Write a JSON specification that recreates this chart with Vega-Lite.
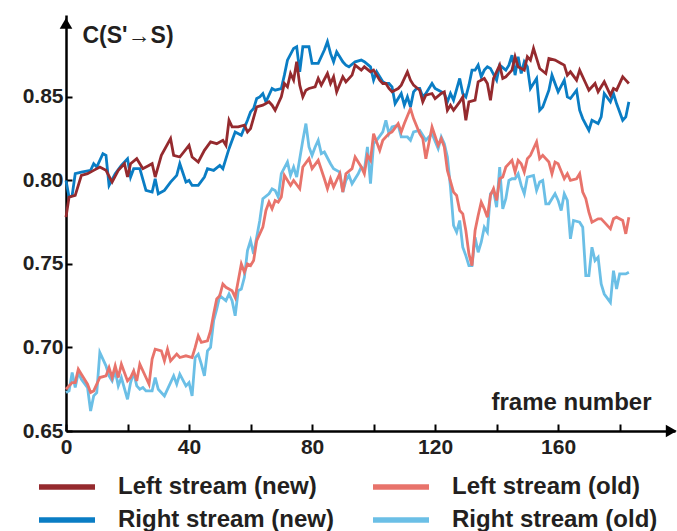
{
  "$schema": "https://vega.github.io/schema/vega-lite/v6.json",
  "autosize": {"type": "none"},
  "width": 609,
  "height": 416,
  "padding": {"left": 66, "top": 15, "right": 2, "bottom": 100},
  "background": "white",
  "config": {
    "view": {"stroke": null},
    "font": "Liberation Sans",
    "axis": {"labelFont": "Liberation Sans", "titleFont": "Liberation Sans", "labelColor": "#231f20", "titleColor": "#231f20", "labelFontWeight": "bold", "titleFontWeight": "bold", "grid": false, "domainColor": "#000", "tickColor": "#000", "domainWidth": 2.5, "tickWidth": 2}
  },
  "datasets": {
    "arrows": [{"ax": 196.8, "ay": 0.65, "sh": "triangle-right"}, {"ax": 0, "ay": 0.894, "sh": "triangle-up"}]
  },
  "data": {"values": [
    {"s":"RO","f":0,"v":0.673},{"s":"RO","f":1,"v":0.674},{"s":"RO","f":2,"v":0.685},{"s":"RO","f":3,"v":0.676},{"s":"RO","f":4,"v":0.685},{"s":"RO","f":5,"v":0.681},{"s":"RO","f":7,"v":0.676},{"s":"RO","f":8,"v":0.662},{"s":"RO","f":9,"v":0.671},{"s":"RO","f":10,"v":0.673},{"s":"RO","f":11,"v":0.697},{"s":"RO","f":13,"v":0.689},{"s":"RO","f":14,"v":0.683},{"s":"RO","f":15,"v":0.680},{"s":"RO","f":16,"v":0.686},{"s":"RO","f":17,"v":0.677},{"s":"RO","f":18,"v":0.682},{"s":"RO","f":20,"v":0.669},{"s":"RO","f":21,"v":0.679},{"s":"RO","f":22,"v":0.685},{"s":"RO","f":23,"v":0.677},{"s":"RO","f":24,"v":0.675},{"s":"RO","f":25,"v":0.676},{"s":"RO","f":26,"v":0.674},{"s":"RO","f":28,"v":0.674},{"s":"RO","f":29,"v":0.682},{"s":"RO","f":30,"v":0.675},{"s":"RO","f":32,"v":0.671},{"s":"RO","f":34,"v":0.679},{"s":"RO","f":35,"v":0.683},{"s":"RO","f":36,"v":0.678},{"s":"RO","f":37,"v":0.684},{"s":"RO","f":39,"v":0.677},{"s":"RO","f":40,"v":0.679},{"s":"RO","f":41,"v":0.671},{"s":"RO","f":42,"v":0.694},{"s":"RO","f":43,"v":0.696},{"s":"RO","f":44,"v":0.690},{"s":"RO","f":45,"v":0.683},{"s":"RO","f":46,"v":0.698},{"s":"RO","f":47,"v":0.700},{"s":"RO","f":48,"v":0.716},{"s":"RO","f":49,"v":0.723},{"s":"RO","f":50,"v":0.731},{"s":"RO","f":52,"v":0.728},{"s":"RO","f":53,"v":0.732},{"s":"RO","f":54,"v":0.728},{"s":"RO","f":55,"v":0.719},{"s":"RO","f":56,"v":0.734},{"s":"RO","f":57,"v":0.735},{"s":"RO","f":58,"v":0.742},{"s":"RO","f":59,"v":0.758},{"s":"RO","f":60,"v":0.764},{"s":"RO","f":61,"v":0.756},{"s":"RO","f":62,"v":0.766},{"s":"RO","f":63,"v":0.776},{"s":"RO","f":64,"v":0.789},{"s":"RO","f":66,"v":0.792},{"s":"RO","f":67,"v":0.795},{"s":"RO","f":68,"v":0.794},{"s":"RO","f":69,"v":0.790},{"s":"RO","f":70,"v":0.804},{"s":"RO","f":72,"v":0.811},{"s":"RO","f":73,"v":0.803},{"s":"RO","f":74,"v":0.808},{"s":"RO","f":75,"v":0.802},{"s":"RO","f":77,"v":0.824},{"s":"RO","f":78,"v":0.834},{"s":"RO","f":79,"v":0.820},{"s":"RO","f":80,"v":0.815},{"s":"RO","f":81,"v":0.820},{"s":"RO","f":82,"v":0.824},{"s":"RO","f":83,"v":0.816},{"s":"RO","f":84,"v":0.817},{"s":"RO","f":86,"v":0.810},{"s":"RO","f":87,"v":0.807},{"s":"RO","f":89,"v":0.805},{"s":"RO","f":90,"v":0.793},{"s":"RO","f":91,"v":0.800},{"s":"RO","f":92,"v":0.803},{"s":"RO","f":93,"v":0.798},{"s":"RO","f":95,"v":0.804},{"s":"RO","f":96,"v":0.808},{"s":"RO","f":97,"v":0.806},{"s":"RO","f":98,"v":0.820},{"s":"RO","f":99,"v":0.798},{"s":"RO","f":100,"v":0.822},{"s":"RO","f":101,"v":0.824},{"s":"RO","f":103,"v":0.829},{"s":"RO","f":104,"v":0.836},{"s":"RO","f":105,"v":0.828},{"s":"RO","f":106,"v":0.832},{"s":"RO","f":108,"v":0.833},{"s":"RO","f":109,"v":0.826},{"s":"RO","f":111,"v":0.826},{"s":"RO","f":112,"v":0.824},{"s":"RO","f":113,"v":0.829},{"s":"RO","f":115,"v":0.830},{"s":"RO","f":117,"v":0.824},{"s":"RO","f":119,"v":0.828},{"s":"RO","f":121,"v":0.819},{"s":"RO","f":122,"v":0.826},{"s":"RO","f":123,"v":0.822},{"s":"RO","f":124,"v":0.814},{"s":"RO","f":125,"v":0.796},{"s":"RO","f":126,"v":0.773},{"s":"RO","f":127,"v":0.769},{"s":"RO","f":128,"v":0.776},{"s":"RO","f":129,"v":0.760},{"s":"RO","f":130,"v":0.755},{"s":"RO","f":131,"v":0.749},{"s":"RO","f":132,"v":0.749},{"s":"RO","f":133,"v":0.766},{"s":"RO","f":134,"v":0.757},{"s":"RO","f":135,"v":0.763},{"s":"RO","f":136,"v":0.772},{"s":"RO","f":137,"v":0.769},{"s":"RO","f":138,"v":0.792},{"s":"RO","f":139,"v":0.794},{"s":"RO","f":140,"v":0.784},{"s":"RO","f":141,"v":0.808},{"s":"RO","f":142,"v":0.783},{"s":"RO","f":143,"v":0.789},{"s":"RO","f":144,"v":0.800},{"s":"RO","f":145,"v":0.801},{"s":"RO","f":146,"v":0.801},{"s":"RO","f":147,"v":0.804},{"s":"RO","f":148,"v":0.797},{"s":"RO","f":149,"v":0.792},{"s":"RO","f":150,"v":0.802},{"s":"RO","f":152,"v":0.803},{"s":"RO","f":153,"v":0.794},{"s":"RO","f":154,"v":0.799},{"s":"RO","f":155,"v":0.800},{"s":"RO","f":156,"v":0.786},{"s":"RO","f":157,"v":0.786},{"s":"RO","f":159,"v":0.792},{"s":"RO","f":160,"v":0.788},{"s":"RO","f":161,"v":0.782},{"s":"RO","f":162,"v":0.792},{"s":"RO","f":163,"v":0.788},{"s":"RO","f":164,"v":0.765},{"s":"RO","f":165,"v":0.776},{"s":"RO","f":167,"v":0.775},{"s":"RO","f":168,"v":0.772},{"s":"RO","f":169,"v":0.743},{"s":"RO","f":170,"v":0.743},{"s":"RO","f":171,"v":0.760},{"s":"RO","f":172,"v":0.752},{"s":"RO","f":173,"v":0.754},{"s":"RO","f":174,"v":0.738},{"s":"RO","f":175,"v":0.732},{"s":"RO","f":177,"v":0.727},{"s":"RO","f":178,"v":0.746},{"s":"RO","f":179,"v":0.735},{"s":"RO","f":180,"v":0.744},{"s":"RO","f":182,"v":0.744},{"s":"RO","f":183,"v":0.745},
    {"s":"LO","f":0,"v":0.675},{"s":"LO","f":2,"v":0.679},{"s":"LO","f":3,"v":0.679},{"s":"LO","f":4,"v":0.687},{"s":"LO","f":5,"v":0.684},{"s":"LO","f":7,"v":0.678},{"s":"LO","f":8,"v":0.673},{"s":"LO","f":9,"v":0.674},{"s":"LO","f":11,"v":0.682},{"s":"LO","f":13,"v":0.683},{"s":"LO","f":14,"v":0.688},{"s":"LO","f":15,"v":0.682},{"s":"LO","f":16,"v":0.689},{"s":"LO","f":17,"v":0.682},{"s":"LO","f":18,"v":0.690},{"s":"LO","f":20,"v":0.680},{"s":"LO","f":21,"v":0.682},{"s":"LO","f":22,"v":0.686},{"s":"LO","f":23,"v":0.680},{"s":"LO","f":24,"v":0.690},{"s":"LO","f":26,"v":0.682},{"s":"LO","f":27,"v":0.678},{"s":"LO","f":28,"v":0.693},{"s":"LO","f":29,"v":0.699},{"s":"LO","f":31,"v":0.698},{"s":"LO","f":32,"v":0.692},{"s":"LO","f":33,"v":0.699},{"s":"LO","f":34,"v":0.692},{"s":"LO","f":36,"v":0.696},{"s":"LO","f":37,"v":0.694},{"s":"LO","f":39,"v":0.695},{"s":"LO","f":41,"v":0.694},{"s":"LO","f":42,"v":0.700},{"s":"LO","f":43,"v":0.707},{"s":"LO","f":44,"v":0.703},{"s":"LO","f":46,"v":0.704},{"s":"LO","f":47,"v":0.710},{"s":"LO","f":48,"v":0.720},{"s":"LO","f":49,"v":0.729},{"s":"LO","f":50,"v":0.731},{"s":"LO","f":51,"v":0.738},{"s":"LO","f":52,"v":0.736},{"s":"LO","f":54,"v":0.734},{"s":"LO","f":55,"v":0.730},{"s":"LO","f":57,"v":0.750},{"s":"LO","f":58,"v":0.745},{"s":"LO","f":59,"v":0.750},{"s":"LO","f":60,"v":0.749},{"s":"LO","f":61,"v":0.752},{"s":"LO","f":62,"v":0.764},{"s":"LO","f":64,"v":0.772},{"s":"LO","f":65,"v":0.782},{"s":"LO","f":66,"v":0.787},{"s":"LO","f":67,"v":0.783},{"s":"LO","f":68,"v":0.788},{"s":"LO","f":69,"v":0.787},{"s":"LO","f":70,"v":0.790},{"s":"LO","f":71,"v":0.803},{"s":"LO","f":73,"v":0.797},{"s":"LO","f":74,"v":0.800},{"s":"LO","f":76,"v":0.795},{"s":"LO","f":77,"v":0.808},{"s":"LO","f":79,"v":0.813},{"s":"LO","f":80,"v":0.807},{"s":"LO","f":82,"v":0.812},{"s":"LO","f":84,"v":0.801},{"s":"LO","f":85,"v":0.795},{"s":"LO","f":86,"v":0.801},{"s":"LO","f":87,"v":0.796},{"s":"LO","f":89,"v":0.804},{"s":"LO","f":90,"v":0.793},{"s":"LO","f":91,"v":0.804},{"s":"LO","f":93,"v":0.807},{"s":"LO","f":94,"v":0.814},{"s":"LO","f":96,"v":0.808},{"s":"LO","f":97,"v":0.804},{"s":"LO","f":98,"v":0.815},{"s":"LO","f":99,"v":0.812},{"s":"LO","f":100,"v":0.828},{"s":"LO","f":102,"v":0.818},{"s":"LO","f":103,"v":0.824},{"s":"LO","f":105,"v":0.828},{"s":"LO","f":106,"v":0.829},{"s":"LO","f":108,"v":0.834},{"s":"LO","f":109,"v":0.829},{"s":"LO","f":110,"v":0.834},{"s":"LO","f":112,"v":0.843},{"s":"LO","f":113,"v":0.837},{"s":"LO","f":115,"v":0.828},{"s":"LO","f":116,"v":0.825},{"s":"LO","f":117,"v":0.813},{"s":"LO","f":119,"v":0.832},{"s":"LO","f":121,"v":0.821},{"s":"LO","f":122,"v":0.825},{"s":"LO","f":123,"v":0.820},{"s":"LO","f":124,"v":0.806},{"s":"LO","f":126,"v":0.793},{"s":"LO","f":127,"v":0.791},{"s":"LO","f":128,"v":0.782},{"s":"LO","f":129,"v":0.780},{"s":"LO","f":130,"v":0.770},{"s":"LO","f":131,"v":0.756},{"s":"LO","f":132,"v":0.749},{"s":"LO","f":133,"v":0.770},{"s":"LO","f":134,"v":0.779},{"s":"LO","f":135,"v":0.787},{"s":"LO","f":136,"v":0.783},{"s":"LO","f":137,"v":0.778},{"s":"LO","f":138,"v":0.791},{"s":"LO","f":139,"v":0.795},{"s":"LO","f":140,"v":0.788},{"s":"LO","f":141,"v":0.801},{"s":"LO","f":142,"v":0.802},{"s":"LO","f":143,"v":0.808},{"s":"LO","f":145,"v":0.812},{"s":"LO","f":146,"v":0.805},{"s":"LO","f":147,"v":0.812},{"s":"LO","f":148,"v":0.810},{"s":"LO","f":149,"v":0.805},{"s":"LO","f":150,"v":0.813},{"s":"LO","f":151,"v":0.815},{"s":"LO","f":153,"v":0.823},{"s":"LO","f":154,"v":0.813},{"s":"LO","f":155,"v":0.815},{"s":"LO","f":157,"v":0.811},{"s":"LO","f":158,"v":0.804},{"s":"LO","f":159,"v":0.811},{"s":"LO","f":160,"v":0.810},{"s":"LO","f":162,"v":0.801},{"s":"LO","f":163,"v":0.804},{"s":"LO","f":164,"v":0.800},{"s":"LO","f":166,"v":0.801},{"s":"LO","f":167,"v":0.804},{"s":"LO","f":168,"v":0.793},{"s":"LO","f":169,"v":0.789},{"s":"LO","f":170,"v":0.781},{"s":"LO","f":171,"v":0.775},{"s":"LO","f":173,"v":0.777},{"s":"LO","f":174,"v":0.777},{"s":"LO","f":175,"v":0.775},{"s":"LO","f":177,"v":0.771},{"s":"LO","f":178,"v":0.777},{"s":"LO","f":179,"v":0.778},{"s":"LO","f":181,"v":0.776},{"s":"LO","f":182,"v":0.768},{"s":"LO","f":183,"v":0.778},
    {"s":"RN","f":0,"v":0.800},{"s":"RN","f":1,"v":0.790},{"s":"RN","f":2,"v":0.791},{"s":"RN","f":3,"v":0.804},{"s":"RN","f":5,"v":0.805},{"s":"RN","f":8,"v":0.806},{"s":"RN","f":9,"v":0.810},{"s":"RN","f":10,"v":0.808},{"s":"RN","f":12,"v":0.816},{"s":"RN","f":13,"v":0.815},{"s":"RN","f":14,"v":0.797},{"s":"RN","f":16,"v":0.804},{"s":"RN","f":18,"v":0.809},{"s":"RN","f":20,"v":0.813},{"s":"RN","f":21,"v":0.802},{"s":"RN","f":22,"v":0.807},{"s":"RN","f":24,"v":0.807},{"s":"RN","f":26,"v":0.794},{"s":"RN","f":28,"v":0.793},{"s":"RN","f":29,"v":0.801},{"s":"RN","f":30,"v":0.792},{"s":"RN","f":32,"v":0.794},{"s":"RN","f":34,"v":0.799},{"s":"RN","f":36,"v":0.803},{"s":"RN","f":37,"v":0.810},{"s":"RN","f":39,"v":0.799},{"s":"RN","f":40,"v":0.800},{"s":"RN","f":41,"v":0.797},{"s":"RN","f":43,"v":0.797},{"s":"RN","f":45,"v":0.802},{"s":"RN","f":46,"v":0.807},{"s":"RN","f":48,"v":0.806},{"s":"RN","f":50,"v":0.809},{"s":"RN","f":51,"v":0.807},{"s":"RN","f":52,"v":0.813},{"s":"RN","f":53,"v":0.819},{"s":"RN","f":55,"v":0.829},{"s":"RN","f":57,"v":0.827},{"s":"RN","f":59,"v":0.836},{"s":"RN","f":60,"v":0.841},{"s":"RN","f":61,"v":0.843},{"s":"RN","f":62,"v":0.849},{"s":"RN","f":63,"v":0.850},{"s":"RN","f":64,"v":0.852},{"s":"RN","f":65,"v":0.847},{"s":"RN","f":67,"v":0.855},{"s":"RN","f":68,"v":0.854},{"s":"RN","f":70,"v":0.855},{"s":"RN","f":71,"v":0.863},{"s":"RN","f":72,"v":0.872},{"s":"RN","f":74,"v":0.879},{"s":"RN","f":75,"v":0.880},{"s":"RN","f":76,"v":0.865},{"s":"RN","f":77,"v":0.880},{"s":"RN","f":79,"v":0.880},{"s":"RN","f":80,"v":0.870},{"s":"RN","f":82,"v":0.870},{"s":"RN","f":84,"v":0.878},{"s":"RN","f":85,"v":0.883},{"s":"RN","f":86,"v":0.876},{"s":"RN","f":87,"v":0.871},{"s":"RN","f":88,"v":0.877},{"s":"RN","f":90,"v":0.871},{"s":"RN","f":91,"v":0.869},{"s":"RN","f":92,"v":0.868},{"s":"RN","f":94,"v":0.871},{"s":"RN","f":96,"v":0.872},{"s":"RN","f":97,"v":0.871},{"s":"RN","f":99,"v":0.868},{"s":"RN","f":100,"v":0.860},{"s":"RN","f":101,"v":0.865},{"s":"RN","f":103,"v":0.859},{"s":"RN","f":104,"v":0.858},{"s":"RN","f":105,"v":0.858},{"s":"RN","f":106,"v":0.856},{"s":"RN","f":107,"v":0.846},{"s":"RN","f":109,"v":0.852},{"s":"RN","f":110,"v":0.845},{"s":"RN","f":111,"v":0.850},{"s":"RN","f":112,"v":0.844},{"s":"RN","f":113,"v":0.853},{"s":"RN","f":114,"v":0.855},{"s":"RN","f":115,"v":0.855},{"s":"RN","f":116,"v":0.850},{"s":"RN","f":117,"v":0.852},{"s":"RN","f":119,"v":0.858},{"s":"RN","f":120,"v":0.855},{"s":"RN","f":122,"v":0.853},{"s":"RN","f":123,"v":0.852},{"s":"RN","f":124,"v":0.847},{"s":"RN","f":125,"v":0.852},{"s":"RN","f":126,"v":0.848},{"s":"RN","f":128,"v":0.861},{"s":"RN","f":129,"v":0.852},{"s":"RN","f":130,"v":0.850},{"s":"RN","f":131,"v":0.857},{"s":"RN","f":132,"v":0.866},{"s":"RN","f":133,"v":0.866},{"s":"RN","f":134,"v":0.869},{"s":"RN","f":135,"v":0.862},{"s":"RN","f":136,"v":0.866},{"s":"RN","f":137,"v":0.868},{"s":"RN","f":138,"v":0.867},{"s":"RN","f":140,"v":0.860},{"s":"RN","f":141,"v":0.869},{"s":"RN","f":143,"v":0.866},{"s":"RN","f":144,"v":0.869},{"s":"RN","f":145,"v":0.875},{"s":"RN","f":146,"v":0.863},{"s":"RN","f":147,"v":0.874},{"s":"RN","f":148,"v":0.864},{"s":"RN","f":149,"v":0.871},{"s":"RN","f":150,"v":0.868},{"s":"RN","f":151,"v":0.855},{"s":"RN","f":153,"v":0.861},{"s":"RN","f":154,"v":0.842},{"s":"RN","f":155,"v":0.844},{"s":"RN","f":157,"v":0.854},{"s":"RN","f":158,"v":0.863},{"s":"RN","f":160,"v":0.853},{"s":"RN","f":162,"v":0.860},{"s":"RN","f":163,"v":0.850},{"s":"RN","f":164,"v":0.849},{"s":"RN","f":166,"v":0.854},{"s":"RN","f":167,"v":0.842},{"s":"RN","f":168,"v":0.837},{"s":"RN","f":170,"v":0.830},{"s":"RN","f":171,"v":0.836},{"s":"RN","f":173,"v":0.834},{"s":"RN","f":174,"v":0.838},{"s":"RN","f":175,"v":0.852},{"s":"RN","f":177,"v":0.847},{"s":"RN","f":178,"v":0.852},{"s":"RN","f":179,"v":0.846},{"s":"RN","f":181,"v":0.836},{"s":"RN","f":182,"v":0.838},{"s":"RN","f":183,"v":0.847},
    {"s":"LN","f":0,"v":0.778},{"s":"LN","f":1,"v":0.790},{"s":"LN","f":3,"v":0.791},{"s":"LN","f":5,"v":0.803},{"s":"LN","f":7,"v":0.804},{"s":"LN","f":9,"v":0.806},{"s":"LN","f":11,"v":0.808},{"s":"LN","f":13,"v":0.806},{"s":"LN","f":15,"v":0.799},{"s":"LN","f":17,"v":0.806},{"s":"LN","f":19,"v":0.810},{"s":"LN","f":20,"v":0.802},{"s":"LN","f":21,"v":0.810},{"s":"LN","f":23,"v":0.813},{"s":"LN","f":25,"v":0.807},{"s":"LN","f":28,"v":0.810},{"s":"LN","f":29,"v":0.802},{"s":"LN","f":31,"v":0.815},{"s":"LN","f":34,"v":0.825},{"s":"LN","f":35,"v":0.815},{"s":"LN","f":37,"v":0.814},{"s":"LN","f":40,"v":0.821},{"s":"LN","f":41,"v":0.814},{"s":"LN","f":43,"v":0.811},{"s":"LN","f":45,"v":0.818},{"s":"LN","f":47,"v":0.823},{"s":"LN","f":49,"v":0.822},{"s":"LN","f":51,"v":0.824},{"s":"LN","f":52,"v":0.821},{"s":"LN","f":53,"v":0.836},{"s":"LN","f":54,"v":0.832},{"s":"LN","f":56,"v":0.832},{"s":"LN","f":58,"v":0.833},{"s":"LN","f":59,"v":0.829},{"s":"LN","f":60,"v":0.831},{"s":"LN","f":62,"v":0.844},{"s":"LN","f":64,"v":0.845},{"s":"LN","f":66,"v":0.847},{"s":"LN","f":67,"v":0.845},{"s":"LN","f":68,"v":0.842},{"s":"LN","f":70,"v":0.850},{"s":"LN","f":71,"v":0.858},{"s":"LN","f":72,"v":0.856},{"s":"LN","f":73,"v":0.864},{"s":"LN","f":74,"v":0.860},{"s":"LN","f":75,"v":0.871},{"s":"LN","f":76,"v":0.857},{"s":"LN","f":77,"v":0.850},{"s":"LN","f":78,"v":0.854},{"s":"LN","f":79,"v":0.855},{"s":"LN","f":81,"v":0.856},{"s":"LN","f":82,"v":0.861},{"s":"LN","f":83,"v":0.857},{"s":"LN","f":85,"v":0.864},{"s":"LN","f":86,"v":0.858},{"s":"LN","f":87,"v":0.862},{"s":"LN","f":88,"v":0.853},{"s":"LN","f":90,"v":0.862},{"s":"LN","f":91,"v":0.859},{"s":"LN","f":93,"v":0.863},{"s":"LN","f":94,"v":0.869},{"s":"LN","f":96,"v":0.866},{"s":"LN","f":97,"v":0.868},{"s":"LN","f":99,"v":0.865},{"s":"LN","f":100,"v":0.866},{"s":"LN","f":102,"v":0.860},{"s":"LN","f":103,"v":0.858},{"s":"LN","f":104,"v":0.858},{"s":"LN","f":105,"v":0.855},{"s":"LN","f":106,"v":0.853},{"s":"LN","f":108,"v":0.855},{"s":"LN","f":109,"v":0.857},{"s":"LN","f":111,"v":0.865},{"s":"LN","f":112,"v":0.860},{"s":"LN","f":113,"v":0.857},{"s":"LN","f":115,"v":0.854},{"s":"LN","f":116,"v":0.847},{"s":"LN","f":117,"v":0.851},{"s":"LN","f":119,"v":0.852},{"s":"LN","f":120,"v":0.849},{"s":"LN","f":122,"v":0.852},{"s":"LN","f":123,"v":0.853},{"s":"LN","f":124,"v":0.842},{"s":"LN","f":125,"v":0.845},{"s":"LN","f":126,"v":0.842},{"s":"LN","f":128,"v":0.847},{"s":"LN","f":129,"v":0.850},{"s":"LN","f":130,"v":0.836},{"s":"LN","f":131,"v":0.847},{"s":"LN","f":133,"v":0.848},{"s":"LN","f":134,"v":0.859},{"s":"LN","f":136,"v":0.861},{"s":"LN","f":137,"v":0.858},{"s":"LN","f":138,"v":0.848},{"s":"LN","f":139,"v":0.861},{"s":"LN","f":141,"v":0.869},{"s":"LN","f":142,"v":0.861},{"s":"LN","f":143,"v":0.862},{"s":"LN","f":145,"v":0.866},{"s":"LN","f":146,"v":0.874},{"s":"LN","f":147,"v":0.868},{"s":"LN","f":149,"v":0.866},{"s":"LN","f":150,"v":0.874},{"s":"LN","f":151,"v":0.872},{"s":"LN","f":152,"v":0.879},{"s":"LN","f":153,"v":0.873},{"s":"LN","f":154,"v":0.867},{"s":"LN","f":156,"v":0.864},{"s":"LN","f":157,"v":0.873},{"s":"LN","f":159,"v":0.872},{"s":"LN","f":161,"v":0.870},{"s":"LN","f":162,"v":0.869},{"s":"LN","f":163,"v":0.863},{"s":"LN","f":164,"v":0.865},{"s":"LN","f":166,"v":0.860},{"s":"LN","f":167,"v":0.866},{"s":"LN","f":169,"v":0.858},{"s":"LN","f":170,"v":0.854},{"s":"LN","f":172,"v":0.858},{"s":"LN","f":173,"v":0.853},{"s":"LN","f":175,"v":0.859},{"s":"LN","f":177,"v":0.851},{"s":"LN","f":178,"v":0.855},{"s":"LN","f":179,"v":0.854},{"s":"LN","f":181,"v":0.862},{"s":"LN","f":182,"v":0.860},{"s":"LN","f":183,"v":0.858}
  ]},
  "layer": [
    {
      "mark": {"type": "line", "strokeWidth": 2.8, "strokeJoin": "miter", "clip": false},
      "encoding": {
        "x": {"field": "f", "type": "quantitative", "scale": {"domain": [0, 198], "nice": false, "zero": false},
          "axis": {"values": [0, 20, 40, 60, 80, 100, 120, 140, 160, 180], "labelExpr": "datum.value % 40 == 0 ? datum.label : ''", "labelFontSize": 21, "labelPadding": 12, "tickSize": -7, "title": "frame number", "titleFontSize": 24, "titleX": 505, "titleY": -29, "titleAlign": "center", "titleBaseline": "middle", "labelFlush": false, "labelOverlap": false}},
        "y": {"field": "v", "type": "quantitative", "scale": {"domain": [0.65, 0.899], "nice": false, "zero": false},
          "axis": {"values": [0.65, 0.7, 0.75, 0.8, 0.85], "format": ".2f", "labelFontSize": 21, "labelPadding": 9, "tickSize": -6, "title": "C(S'→S)", "titleFontSize": 23, "titleAngle": 0, "titleAlign": "left", "titleBaseline": "middle", "titleX": 16, "titleY": 20, "labelFlush": false, "labelOverlap": false}},
        "color": {"field": "s", "type": "nominal", "sort": null,
          "scale": {"domain": ["LN", "LO", "RN", "RO"], "range": ["#952A2E", "#E8736B", "#0A7DC4", "#6BBFE6"]},
          "legend": {"title": null, "orient": "none", "legendX": -16, "legendY": 455, "direction": "horizontal", "columns": 2, "symbolType": "M-2,0H2", "symbolSize": 784, "symbolStrokeWidth": 5.5, "labelFontSize": 24, "labelFont": "Liberation Sans", "labelFontWeight": "bold", "labelColor": "#231f20", "labelOffset": 34, "columnPadding": 27, "rowPadding": 4, "labelLimit": 400,
            "labelExpr": "datum.label == 'LN' ? 'Left stream (new)' : datum.label == 'LO' ? 'Left stream (old)' : datum.label == 'RN' ? 'Right stream (new)' : 'Right stream (old)'"}}
      }
    },
    {
      "data": {"name": "arrows"},
      "mark": {"type": "point", "filled": true, "color": "#000", "size": 160, "opacity": 1, "clip": false},
      "encoding": {
        "x": {"field": "ax", "type": "quantitative"},
        "y": {"field": "ay", "type": "quantitative"},
        "shape": {"field": "sh", "type": "nominal", "scale": null, "legend": null}
      }
    }
  ]
}
